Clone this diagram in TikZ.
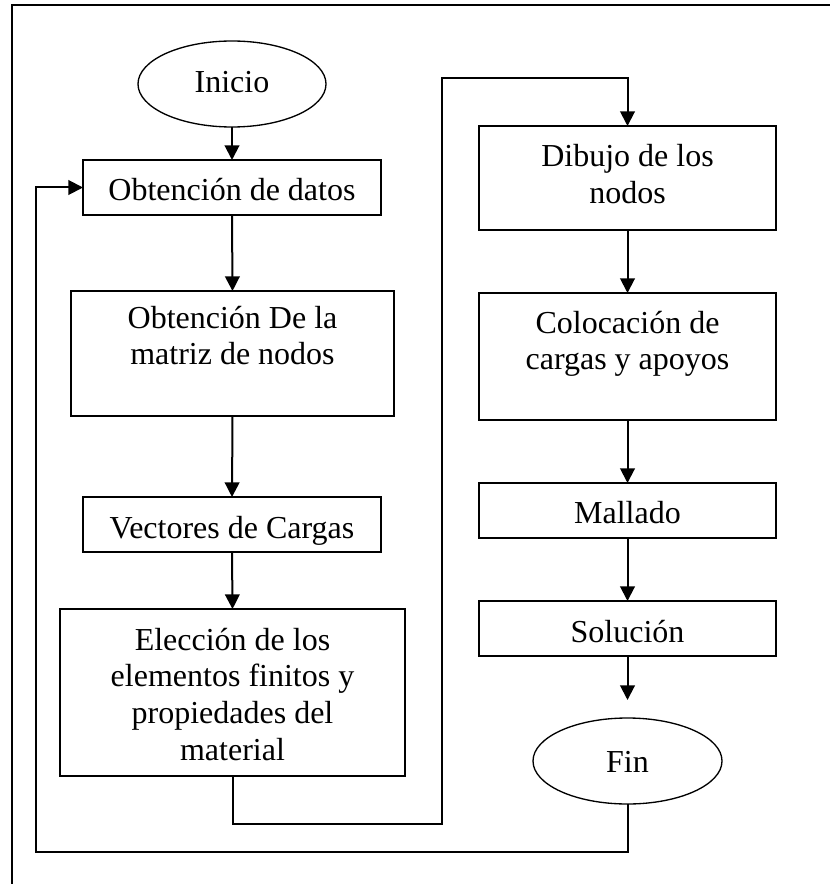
\documentclass[tikz,border=0pt]{standalone}
\usepackage{fontspec}
\setmainfont{Liberation Serif}
\usetikzlibrary{arrows.meta,shapes.geometric}
\begin{document}
\begin{tikzpicture}[x=0.75pt,y=-0.75pt,
  txt/.style={inner sep=0pt, outer sep=0pt, font=\fontsize{24}{27.6}\selectfont},
  stepbox/.style={draw=black, line width=1pt, inner sep=0pt, outer sep=0pt},
  term/.style={draw=black, line width=1pt, ellipse, inner sep=0pt, outer sep=0pt},
  conn/.style={draw=black, line width=1.5pt, -{Triangle[width=11pt,length=11pt]}},
  plain/.style={draw=black, line width=1.5pt}]
\path[use as bounding box] (0,0) rectangle (830,884);
% frame
\draw[line width=1.2pt] (830,5) -- (12,5) -- (12,884);
% left column
\node[term, minimum width=141pt, minimum height=64.5pt] (inicio) at (232,84) {};
\node[stepbox, minimum width=223.5pt, minimum height=41.25pt] (datos) at (232,187.5) {};
\node[stepbox, minimum width=242.25pt, minimum height=93.75pt] (matriz) at (232.5,353.5) {};
\node[stepbox, minimum width=223.5pt, minimum height=41.25pt] (vect) at (232,524.5) {};
\node[stepbox, minimum width=258.75pt, minimum height=125.25pt] (elec) at (232.5,692.5) {};
% right column
\node[stepbox, minimum width=222.75pt, minimum height=78pt] (dibujo) at (627.5,178) {};
\node[stepbox, minimum width=222.75pt, minimum height=95.25pt] (coloc) at (627.5,356.5) {};
\node[stepbox, minimum width=222.75pt, minimum height=41.25pt] (malla) at (627.5,510.5) {};
\node[stepbox, minimum width=222.75pt, minimum height=41.25pt] (sol) at (627.5,628.5) {};
\node[term, minimum width=141.75pt, minimum height=64.5pt] (fin) at (627.5,761) {};
% texts
\node[txt, anchor=base] (tinicio) at (232,93) {Inicio};
\node[txt, anchor=base] (tdatos) at (232,200) {Obtención de datos};
\node[txt, anchor=base] (tmatriz) at (232.5,328) {\begin{tabular}[t]{@{}c@{}}Obtención De la\\matriz de nodos\end{tabular}};
\node[txt, anchor=base] (tvect) at (232,538) {Vectores de Cargas};
\node[txt, anchor=base] (telec) at (232.5,650) {\begin{tabular}[t]{@{}c@{}}Elección de los\\elementos finitos y\\propiedades del\\material\end{tabular}};
\node[txt, anchor=base] (tdibujo) at (627.5,167) {\begin{tabular}[t]{@{}c@{}}Dibujo de los\\nodos\end{tabular}};
\node[txt, anchor=base] (tcoloc) at (627.5,333) {\begin{tabular}[t]{@{}c@{}}Colocación de\\cargas y apoyos\end{tabular}};
\node[txt, anchor=base] (tmalla) at (627.5,523) {Mallado};
\node[txt, anchor=base] (tsol) at (627.5,642) {Solución};
\node[txt, anchor=base] (tfin) at (627.5,772) {Fin};
% bend points
\coordinate (r1) at (442,824);
\coordinate (r2) at (442,78);
\coordinate (l1) at (36,852);
% connectors
\draw[conn] (inicio.south) -- (datos.north);
\draw[conn] (datos.south) -- (matriz.north);
\draw[conn] (matriz.south) -- (vect.north);
\draw[conn] (vect.south) -- (elec.north);
\draw[conn] (elec.south) |- (r1) -- (r2) -| (dibujo.north);
\draw[conn] (dibujo.south) -- (coloc.north);
\draw[conn] (coloc.south) -- (malla.north);
\draw[conn] (malla.south) -- (sol.north);
\draw[conn, shorten >=13.5pt] (sol.south) -- (fin.north);
\draw[conn] (fin.south) |- (l1) |- (datos.west);
\end{tikzpicture}
\end{document}
